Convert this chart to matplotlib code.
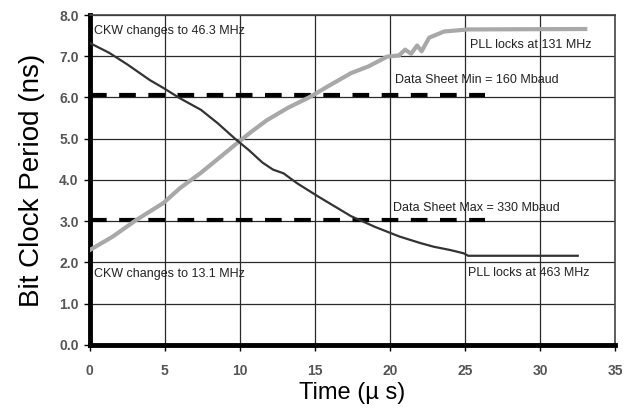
import matplotlib
matplotlib.use("Agg")
import matplotlib.pyplot as plt

plt.rcParams["font.family"] = ["Liberation Sans", "DejaVu Sans"]

# PLL lock-in: bit clock period vs time
t_down = [0, 1.3, 2.5, 4.0, 4.9, 6.0, 7.4, 8.5, 9.7, 10.6, 11.5, 12.2, 12.9, 13.8, 15.2, 16.3, 17.4, 19.0, 20.6, 22.0, 22.9, 24.0, 24.9, 25.2, 32.5]
p_down = [7.32, 7.08, 6.80, 6.42, 6.23, 5.98, 5.70, 5.38, 4.99, 4.72, 4.42, 4.25, 4.16, 3.92, 3.60, 3.36, 3.12, 2.86, 2.63, 2.47, 2.38, 2.30, 2.22, 2.16, 2.16]

t_up = [0, 1.5, 3.1, 4.9, 6.0, 7.35, 8.5, 9.8, 10.8, 11.8, 13.2, 14.7, 16.0, 17.4, 18.6, 19.8, 20.6, 21.0, 21.4, 21.8, 22.1, 22.6, 23.6, 25.2, 33.0]
p_up = [2.30, 2.62, 3.03, 3.44, 3.80, 4.16, 4.50, 4.89, 5.18, 5.45, 5.75, 6.02, 6.30, 6.59, 6.76, 6.99, 7.02, 7.16, 7.06, 7.26, 7.12, 7.45, 7.60, 7.65, 7.66]

spec_min = 6.06   # 160 Mbaud
spec_max = 3.03   # 330 Mbaud
spec_end = 26.3

labels = [
    (0.3, 7.62, "CKW changes to 46.3 MHz"),
    (25.3, 7.28, "PLL locks at 131 MHz"),
    (20.3, 6.43, "Data Sheet Min = 160 Mbaud"),
    (20.2, 3.33, "Data Sheet Max = 330 Mbaud"),
    (0.3, 1.73, "CKW changes to 13.1 MHz"),
    (25.2, 1.75, "PLL locks at 463 MHz"),
]

fig = plt.figure(figsize=(6.24, 4.11), dpi=100)
ax = fig.add_axes([0.144, 0.161, 0.842, 0.8025])

ax.set_xlim(0, 35)
ax.set_ylim(0, 8)
ax.set_xticks(range(0, 36, 5))
ax.set_yticks(range(0, 9))
ax.set_yticklabels(["%.1f" % v for v in range(0, 9)])
ax.grid(True, color="#2a2a2a", linewidth=0.9)
ax.set_axisbelow(True)

ax.plot([0, spec_end], [spec_min, spec_min], color="black", linewidth=3, linestyle=(0, (4, 3)), zorder=3)
ax.plot([0, spec_end], [spec_max, spec_max], color="black", linewidth=3, linestyle=(0, (4, 3)), zorder=3)

ax.plot(t_up, p_up, color="#a8a8a8", linewidth=3.0, zorder=4)
ax.plot(t_down, p_down, color="#333333", linewidth=1.6, zorder=5)

for x, y, s in labels:
    ax.text(x, y, s, fontsize=9, color="#222222", va="center", ha="left", zorder=6)

for side in ["left", "bottom"]:
    ax.spines[side].set_linewidth(3.5)
for side in ["top", "right"]:
    ax.spines[side].set_linewidth(1.2)
    ax.spines[side].set_color("#444444")

ax.tick_params(axis="y", labelsize=10, labelcolor="#555555", length=4, width=1, pad=4)
ax.tick_params(axis="x", labelsize=10, labelcolor="#555555", length=4, width=1, pad=10)
for lab in ax.get_xticklabels() + ax.get_yticklabels():
    lab.set_fontweight("bold")

ax.set_ylabel("Bit Clock Period (ns)", fontsize=20, labelpad=10)
ax.set_xlabel("Time (\u00b5 s)", fontsize=17, labelpad=3)

fig.savefig("out.png", dpi=100)
